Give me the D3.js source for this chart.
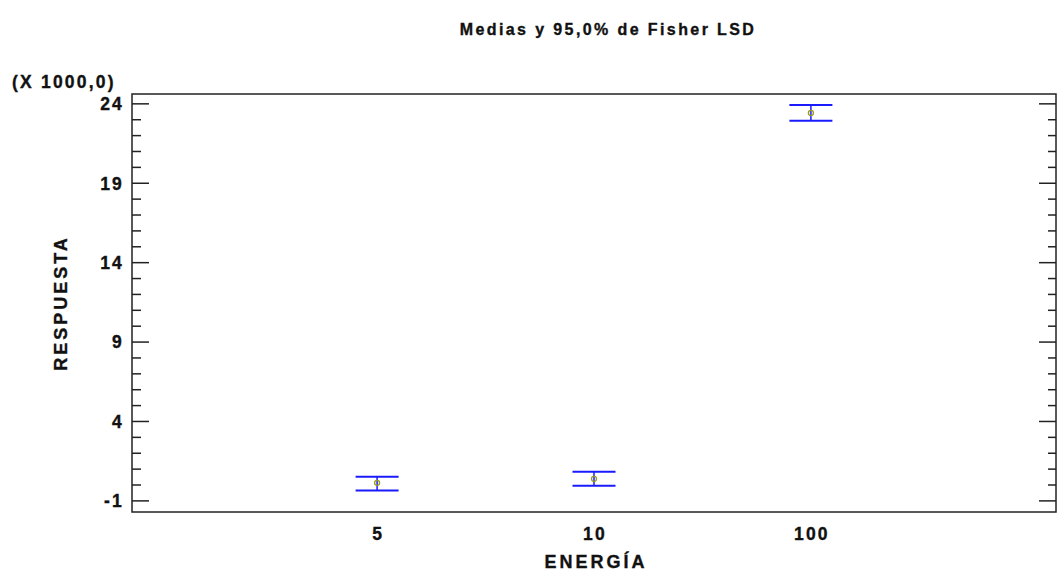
<!DOCTYPE html>
<html>
<head>
<meta charset="utf-8">
<script src="https://cdn.jsdelivr.net/npm/d3@7"></script>
<style>
  body { margin: 0; background: #fff; }
  text { font-family: "Liberation Sans", Arial, sans-serif; font-weight: bold; fill: #111;
         stroke: #111; stroke-width: 0.35px; }
</style>
</head>
<body>
<div id="chart"></div>
<script>
// data (y values in thousands)
var categories = ["5", "10", "100"];
var means = [0.14, 0.39, 23.43];
var lower = [-0.35, -0.05, 22.94];
var upper = [0.52, 0.83, 23.92];
var yTicks = [-1, 4, 9, 14, 19, 24];

var width = 1057, height = 576;
var margin = { top: 94, right: 1, bottom: 64, left: 132 };
var plotW = width - margin.left - margin.right,
    plotH = height - margin.top - margin.bottom;

var svg = d3.select('#chart').append('svg')
    .attr('width', width)
    .attr('height', height);

// title
svg.append('text')
    .attr('x', 608).attr('y', 35)
    .attr('text-anchor', 'middle')
    .style('font-size', '16px')
    .style('letter-spacing', '2.4px')
    .text('Medias y 95,0% de Fisher LSD');

var g = svg.append('g')
    .attr('transform', 'translate(' + margin.left + ',' + margin.top + ')');

var pad = 1.13;
var x = d3.scaleLinear()
    .domain([-pad, categories.length - 1 + pad])
    .range([0, plotW]);

var y = d3.scaleLinear()
    .domain([-1.7, 24.62])
    .range([plotH, 0]);

// minor ticks every 1 unit
var minor = d3.range(-1, 25, 1).filter(v => yTicks.indexOf(v) < 0);

// left ticks
g.selectAll('line.major-l').data(yTicks).enter().append('line')
    .attr('x1', 0).attr('x2', 17)
    .attr('y1', d => y(d)).attr('y2', d => y(d))
    .attr('stroke', '#222').attr('stroke-width', 1.5);
g.selectAll('line.minor-l').data(minor).enter().append('line')
    .attr('x1', 0).attr('x2', 9)
    .attr('y1', d => y(d)).attr('y2', d => y(d))
    .attr('stroke', '#222').attr('stroke-width', 1.5);
// right ticks
g.selectAll('line.major-r').data(yTicks).enter().append('line')
    .attr('x1', plotW - 17).attr('x2', plotW)
    .attr('y1', d => y(d)).attr('y2', d => y(d))
    .attr('stroke', '#222').attr('stroke-width', 1.5);
g.selectAll('line.minor-r').data(minor).enter().append('line')
    .attr('x1', plotW - 8).attr('x2', plotW)
    .attr('y1', d => y(d)).attr('y2', d => y(d))
    .attr('stroke', '#222').attr('stroke-width', 1.5);

// frame
g.append('rect')
    .attr('x', 0).attr('y', 0)
    .attr('width', plotW).attr('height', plotH)
    .attr('fill', 'none')
    .attr('stroke', '#222').attr('stroke-width', 1.5);

// y tick labels
g.selectAll('text.ytick').data(yTicks).enter().append('text')
    .attr('x', -8).attr('y', d => y(d))
    .attr('dy', '0.36em')
    .attr('text-anchor', 'end')
    .style('font-size', '17.5px')
    .style('letter-spacing', '2.2px')
    .text(d => d);

// x tick labels
g.selectAll('text.xtick').data(categories).enter().append('text')
    .attr('x', (d, i) => x(i) + 1).attr('y', plotH + 28)
    .attr('text-anchor', 'middle')
    .style('font-size', '17.5px')
    .style('letter-spacing', '2.2px')
    .text(d => d);

// axis titles
svg.append('text')
    .attr('x', margin.left + x(1) + 2).attr('y', 568)
    .attr('text-anchor', 'middle')
    .style('font-size', '18px')
    .style('letter-spacing', '3px')
    .text('ENERGÍA');

svg.append('text')
    .attr('transform', 'translate(67,' + (margin.top + plotH / 2) + ') rotate(-90)')
    .attr('text-anchor', 'middle')
    .style('font-size', '18px')
    .style('letter-spacing', '3px')
    .text('RESPUESTA');

svg.append('text')
    .attr('x', 12).attr('y', 88)
    .style('font-size', '17.5px')
    .style('letter-spacing', '2.2px')
    .text('(X 1000,0)');

// error bars
var half = 21.5;
var bars = g.selectAll('g.bar').data(categories).enter().append('g');
bars.append('line')
    .attr('x1', (d, i) => x(i)).attr('x2', (d, i) => x(i))
    .attr('y1', (d, i) => y(upper[i])).attr('y2', (d, i) => y(lower[i]))
    .attr('stroke', '#1a1aff').attr('stroke-width', 1.5);
bars.append('line')
    .attr('x1', (d, i) => x(i) - half).attr('x2', (d, i) => x(i) + half)
    .attr('y1', (d, i) => y(upper[i])).attr('y2', (d, i) => y(upper[i]))
    .attr('stroke', '#1a1aff').attr('stroke-width', 2);
bars.append('line')
    .attr('x1', (d, i) => x(i) - half).attr('x2', (d, i) => x(i) + half)
    .attr('y1', (d, i) => y(lower[i])).attr('y2', (d, i) => y(lower[i]))
    .attr('stroke', '#1a1aff').attr('stroke-width', 2);
bars.append('circle')
    .attr('cx', (d, i) => x(i)).attr('cy', (d, i) => y(means[i]))
    .attr('r', 2.5)
    .attr('fill', 'none')
    .attr('stroke', '#9a9a20').attr('stroke-width', 1.3);
</script>
</body>
</html>
